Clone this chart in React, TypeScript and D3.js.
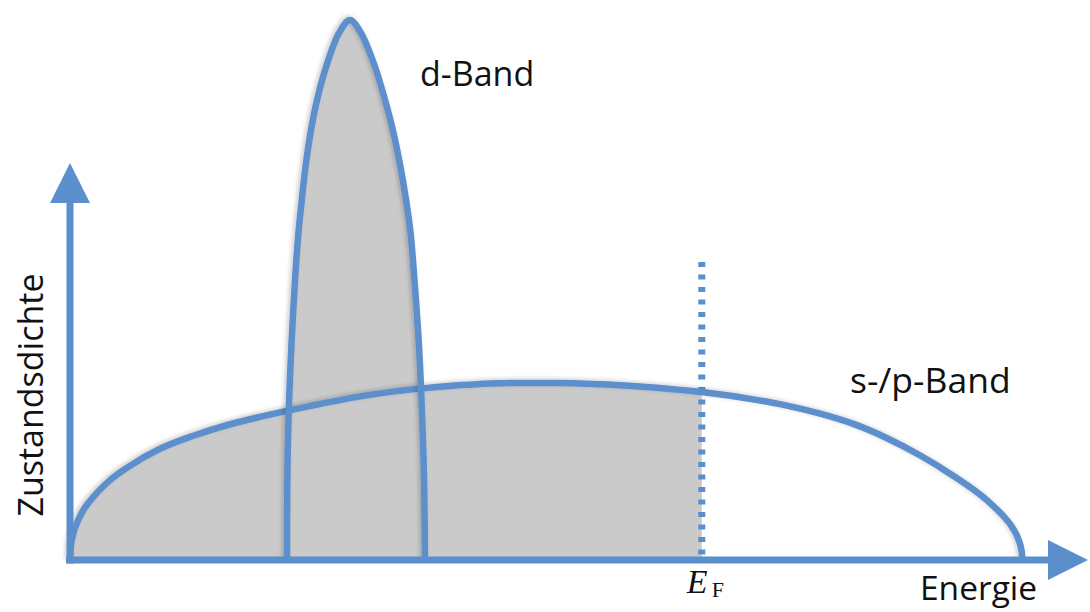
import React from "react";
import * as d3 from "d3";

// Density of states sketch: d-band and s-/p-band, filled up to the Fermi energy.
const dBandEnergy = [22.19, 22.22, 22.36, 22.63, 23.01, 23.36, 23.70, 24.08, 24.59, 25.26, 26.18, 27.51, 28.63, 29.75, 31.19, 32.21, 33.08, 33.79, 34.36, 34.82, 35.22, 35.69, 35.99, 36.20, 36.30];
const dBandDensity = [0, 14.8, 27.2, 39.4, 51.9, 60.6, 66.7, 72.8, 79.1, 85.2, 91.3, 97.6, 100, 97.6, 91.3, 85.2, 79.1, 72.8, 66.7, 60.6, 51.9, 39.4, 27.2, 14.8, 0];

const spBandEnergy = [0, 0.08, 0.3, 1.0, 2.4, 4.1, 6.0, 9.2, 12.6, 16.1, 19.4, 24.5, 30, 35, 40, 45, 50, 55, 60, 65, 70, 73.3, 76.7, 80.1, 83.5, 86.9, 90.3, 93.8, 95.4, 96.4, 97.0, 97.3, 97.4];
const spBandDensity = [0, 2.4, 4.6, 8.0, 11.7, 14.8, 17.3, 20.6, 23.0, 25.0, 26.5, 28.5, 30.4, 31.6, 32.4, 32.8, 32.8, 32.5, 31.9, 31.0, 29.7, 28.6, 27.1, 25.2, 22.6, 19.4, 15.6, 11.0, 8.2, 5.9, 3.7, 1.7, 0];

const fermiEnergy = 64.6;
const fermiLineTop = 55.2;

const bandLabels = ["d-Band", "s-/p-Band"];
const axisLabels = ["Energie", "Zustandsdichte"];
const fermiSymbol = ["E", "F"];

type Pt = { e: number; n: number };
const zip = (es: number[], ns: number[]): Pt[] => es.map((e, i) => ({ e, n: ns[i] }));

export default function App() {
  const W = 1090;
  const H = 612;
  const blue = "#5b8fcb";
  const gray = "#cacaca";

  const x = d3.scaleLinear().domain([0, 100]).range([70, 1048]);
  const y = d3.scaleLinear().domain([0, 100]).range([560, 20]);

  const dBand = zip(dBandEnergy, dBandDensity);
  const spBand = zip(spBandEnergy, spBandDensity);

  const dCurve = d3.curveCatmullRom.alpha(0.5);
  const spCurve = d3.curveMonotoneX;

  const lineWith = (c: d3.CurveFactory) =>
    d3
      .line<Pt>()
      .x((d) => x(d.e))
      .y((d) => y(d.n))
      .curve(c);
  const areaWith = (c: d3.CurveFactory) =>
    d3
      .area<Pt>()
      .x((d) => x(d.e))
      .y0(y(0))
      .y1((d) => y(d.n))
      .curve(c);

  const x0 = x(0);
  const y0 = y(0);
  const xEnd = x(100);
  const arrowLen = 40;
  const arrowHalf = 20;
  const yAxisTop = 203;
  const xF = x(fermiEnergy);
  const serif = "'Liberation Serif', 'DejaVu Serif', serif";

  return (
    <div style={{ position: "absolute", left: 0, top: 0 }}>
      <svg width={W} height={H} style={{ display: "block", background: "#fff" }}>
        <defs>
          <clipPath id="occupied">
            <rect x={0} y={0} width={xF} height={H} />
          </clipPath>
          <filter id="soft" x="-10%" y="-10%" width="120%" height="120%">
            <feDropShadow dx={-2} dy={-1} stdDeviation={2} floodColor="#000" floodOpacity={0.2} />
          </filter>
        </defs>

        {/* occupied states */}
        <path d={areaWith(spCurve)(spBand) ?? ""} fill={gray} clipPath="url(#occupied)" />
        <path d={areaWith(dCurve)(dBand) ?? ""} fill={gray} />

        {/* Fermi level */}
        <line
          x1={xF}
          x2={xF}
          y1={y(fermiLineTop)}
          y2={y0}
          stroke={blue}
          strokeWidth={7}
          strokeDasharray="5 7.5"
        />

        {/* band outlines */}
        <path
          d={lineWith(spCurve)(spBand) ?? ""}
          fill="none"
          stroke={blue}
          strokeWidth={6.5}
          strokeLinejoin="round"
          filter="url(#soft)"
        />
        <path
          d={lineWith(dCurve)(dBand) ?? ""}
          fill="none"
          stroke={blue}
          strokeWidth={6.5}
          strokeLinejoin="round"
          filter="url(#soft)"
        />

        {/* axes with arrowheads */}
        <line x1={x0 - 4} x2={xEnd} y1={y0} y2={y0} stroke={blue} strokeWidth={7} />
        <polygon
          points={`${xEnd},${y0 - arrowHalf} ${xEnd + arrowLen},${y0} ${xEnd},${y0 + arrowHalf}`}
          fill={blue}
        />
        <line x1={x0} x2={x0} y1={y0 + 3.5} y2={yAxisTop} stroke={blue} strokeWidth={7} />
        <polygon
          points={`${x0 - arrowHalf},${yAxisTop} ${x0},${yAxisTop - arrowLen} ${x0 + arrowHalf},${yAxisTop}`}
          fill={blue}
        />

        {/* labels */}
        <g fontFamily="'Open Sans', sans-serif" fill="#111">
          <text x={420} y={86} fontSize={34}>{bandLabels[0]}</text>
          <text x={850} y={393} fontSize={35.5}>{bandLabels[1]}</text>
          <text x={920} y={600} fontSize={33.5}>{axisLabels[0]}</text>
          <text transform="translate(43,395) rotate(-90)" textAnchor="middle" fontSize={34}>
            {axisLabels[1]}
          </text>
        </g>
        <text x={xF - 15} y={593} fontFamily={serif} fontSize={34} fontStyle="italic" fill="#111">
          {fermiSymbol[0]}
        </text>
        <text x={xF + 10} y={597} fontFamily={serif} fontSize={22} fill="#111">
          {fermiSymbol[1]}
        </text>
      </svg>
    </div>
  );
}
